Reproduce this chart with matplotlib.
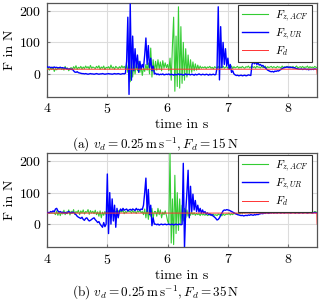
import numpy as np
import matplotlib
matplotlib.use("Agg")
import matplotlib.pyplot as plt

plt.rcParams['font.family'] = ['cmr10', 'DejaVu Serif']
plt.rcParams['mathtext.fontset'] = 'cm'
plt.rcParams['axes.formatter.use_mathtext'] = True
plt.rcParams['axes.unicode_minus'] = False

# sample times (s), 0.02 s spacing from 4.00 to 8.48
time_s = np.round(np.arange(225) * 0.02 + 4.0, 2)

# ---------- (a) F_d = 15 N ----------
fz_acf_a = [
    15, 18, 12, 20, 14, 22, 8, 17, 13, 19,
    16, 21, 14, 18, 12, 24, 15, 19, 10, 17,
    20, 14, 23, 17, 26, 15, 21, 18, 24, 16,
    22, 17, 25, 19, 23, 16, 27, 18, 22, 20,
    17, 24, 19, 26, 15, 22, 18, 25, 14, 21,
    19, 23, 16, 28, 18, 22, 15, 24, 20, 17,
    23, 18, 26, 19, 24, 16, 30, 5, 40, -25,
    45, -10, 35, 0, 30, 10, 40, 5, 25, -5,
    20, 8, 30, 12, 35, 0, 82, -10, 45, 5,
    40, 12, 45, 15, 38, 10, 42, 18, 35, 20,
    30, 10, 50, -20, 90, 180, -55, 120, -40, 213,
    -45, 150, -30, 100, -20, 80, -10, 60, 0, 45,
    5, 38, 10, 32, 12, 28, 15, 25, 18, 22,
    19, 23, 17, 22, 20, 24, 18, 21, 16, 23,
    20, 18, 24, 17, 22, 19, 25, 18, 21, 23,
    18, 22, 20, 25, 17, 23, 19, 21, 24, 18,
    22, 19, 24, 20, 18, 23, 21, 25, 19, 22,
    24, 20, 23, 18, 25, 21, 22, 19, 24, 20,
    21, 25, 18, 23, 20, 22, 24, 19, 23, 21,
    19, 24, 21, 22, 18, 25, 20, 23, 21, 24,
    22, 19, 23, 20, 24, 18, 22, 25, 19, 21,
    23, 20, 24, 19, 22, 21, 25, 18, 23, 20,
    22, 19, 24, 21, 20,
]
fz_ur_a = [
    23, 21, 22, 20, 21, 19, 22, 20, 21, 19,
    20, 21, 19, 20, 18, 19, 17, 16, 15, 16,
    14, 15, 10, 6, 5, 7, 4, 3, 2, 1,
    1, 0, 1, 0, -1, 0, 1, 0, 0, -1,
    0, 1, 0, -1, 0, 0, 1, 0, -1, 0,
    0, 1, 0, 0, -1, 0, 1, 0, 0, 1,
    0, -1, 0, 1, 0, 2, 40, 180, -65, 222,
    -20, 120, 10, 80, 20, 60, 5, 40, 15, 30,
    20, 60, 114, 30, 90, 20, 50, 10, 25, 0,
    2, -2, 0, -3, -1, -2, 0, -3, -2, -1,
    -2, 0, -3, -1, -2, -4, -1, -3, -2, 0,
    -3, -1, -2, -4, -2, 0, -3, -1, -2, -3,
    -1, -2, -4, -1, -3, -2, 0, -2, -3, -1,
    -2, -3, -1, -2, -4, -1, -3, -2, -1, -3,
    -2, 20, 213, -19, 150, 20, 100, 30, 80, 25,
    50, 15, 30, 5, 10, 0, -3, -5, -4, -6,
    -5, -4, -6, -5, -4, -6, -5, -3, -4, -5,
    30, 40, 32, 38, 30, 35, 28, 30, 25, 27,
    22, 20, 15, 12, 10, 8, 7, 8, 6, 9,
    8, 10, 9, 12, 14, 17, 19, 20, 21, 22,
    21, 22, 20, 21, 19, 20, 18, 17, 16, 15,
    15, 16, 14, 15, 16, 14, 15, 13, 15, 14,
    15, 14, 16, 15, 14,
]
fd_time_a = [4.0, 8.475, 8.48]
fd_a = [15, 15, 0]

# ---------- (b) F_d = 35 N ----------
fz_acf_b = [
    35, 35, 35, 35, 35, 35, 35, 30, 42, 28,
    40, 27, 38, 32, 44, 30, 39, 33, 45, 29,
    41, 34, 46, 31, 40, 36, 44, 30, 42, 35,
    45, 32, 40, 37, 46, 31, 43, 35, 41, 33,
    44, 30, 39, 25, 42, 20, 38, 28, 40, 30,
    36, 42, 33, 40, 35, 44, 31, 41, 37, 43,
    34, 42, 38, 45, 33, 40, 36, 44, 39, 41,
    35, 43, 37, 40, 34, 42, 38, 44, 36, 40,
    30, 48, 20, 55, 15, 45, 25, 50, 18, 40,
    40, 25, 50, 30, 45, 20, 38, 30, 42, 28,
    10, 0, 225, -60, 80, -65, 155, -30, 100, -20,
    80, 0, 60, 10, 50, 20, 45, 25, 40, 28,
    38, 30, 36, 28, 34, 30, 33, 27, 35, 29,
    31, 28, 33, 27, 30, 29, 32, 26, 31, 28,
    30, 27, 32, 29, 31, 26, 33, 28, 30, 32,
    31, 34, 29, 33, 30, 35, 32, 34, 31, 36,
    33, 37, 34, 38, 35, 39, 36, 38, 35, 40,
    37, 39, 36, 40, 38, 37, 41, 36, 39, 38,
    40, 37, 39, 36, 41, 38, 37, 40, 36, 39,
    38, 41, 37, 39, 36, 40, 38, 37, 41, 38,
    39, 36, 40, 38, 37, 41, 36, 39, 38, 40,
    37, 39, 41, 36, 38, 40, 37, 39, 36, 41,
    38, 37, 40, 39, 36,
]
fz_ur_b = [
    35, 37, 36, 40, 38, 42, 39, 48, 50, 42,
    38, 40, 36, 38, 35, 37, 34, 38, 40, 36,
    35, 38, 37, 33, 30, 25, 22, 20, 18, 22,
    15, 12, 18, 20, 14, 10, 12, 15, 18, 20,
    14, 10, 5, 8, 0, -5, -10, 5, -8, 0,
    159, -30, 100, 0, 80, 10, 60, -10, 50, 20,
    40, 48, 42, 50, 44, 46, 48, 42, 45, 47,
    44, 48, 46, 43, 50, 45, 47, 44, 48, 46,
    60, 100, 146, 40, 110, 30, 60, -5, 20, 0,
    0, -2, 0, -3, -1, 0, -2, -1, 0, -2,
    -1, 0, -2, -1, 0, -3, -1, 0, -2, -1,
    0, -2, -1, 193, -75, 40, 100, 171, 20, 120,
    40, 95, 45, 75, 40, 60, 38, 50, 35, 45,
    35, 40, 32, 36, 30, 33, 28, 30, 25, 22,
    18, 13, 15, 20, 28, 35, 42, 45, 44, 46,
    45, 44, 42, 40, 38, 36, 34, 32, 30, 29,
    28, 27, 28, 26, 27, 28, 27, 29, 28, 30,
    29, 28, 30, 29, 31, 30, 32, 33, 34, 33,
    35, 34, 36, 35, 34, 36, 35, 37, 35, 36,
    36, 35, 37, 36, 35, 37, 36, 35, 37, 36,
    36, 37, 35, 36, 37, 36, 35, 37, 36, 35,
    36, 37, 35, 36, 37, 36, 35, 36, 37, 36,
    35, 36, 37, 36, 35,
]
fd_time_b = [4.0, 8.475, 8.48]
fd_b = [35, 35, 0]

x_ticks = [4, 5, 6, 7, 8]
y_ticks = [0, 100, 200]
legend_labels = [r'$F_{z,ACF}$', r'$F_{z,UR}$', r'$F_d$']
captions = [r'(a) $v_d = 0.25\,\mathrm{m\,s^{-1}}, F_d = 15\,\mathrm{N}$',
            r'(b) $v_d = 0.25\,\mathrm{m\,s^{-1}}, F_d = 35\,\mathrm{N}$']

GREEN = '#33cc33'
BLUE = '#0000ff'
RED = '#ff3333'

fig = plt.figure(figsize=(3.2, 3.01), dpi=100)
ax_a = fig.add_axes([0.147, 0.678, 0.844, 0.312])
ax_b = fig.add_axes([0.147, 0.179, 0.844, 0.312])

panels = [
    (ax_a, fz_acf_a, fz_ur_a, fd_time_a, fd_a, captions[0], 0.518),
    (ax_b, fz_acf_b, fz_ur_b, fd_time_b, fd_b, captions[1], 0.027),
]

for ax, acf, ur, fdt, fd, cap, capy in panels:
    l1, = ax.plot(time_s, acf, color=GREEN, lw=0.8, zorder=3)
    l2, = ax.plot(time_s, ur, color=BLUE, lw=1.0, zorder=4)
    l3, = ax.plot(fdt, fd, color=RED, lw=0.7, zorder=5)
    ax.set_xlim(4.0, 8.48)
    ax.set_ylim(-73, 225)
    ax.set_xticks(x_ticks)
    ax.set_yticks(y_ticks)
    ax.grid(True, color='#dcdcdc', lw=0.8)
    ax.set_axisbelow(True)
    for s in ax.spines.values():
        s.set_color('#555555')
        s.set_linewidth(0.9)
    ax.tick_params(direction='in', length=2.5, color='#777777', labelsize=10, pad=4)
    ax.set_xlabel('time in s', fontsize=10, labelpad=2)
    ax.set_ylabel('F in N', fontsize=10, labelpad=2)
    leg = ax.legend([l1, l2, l3], legend_labels, loc='upper right',
                    bbox_to_anchor=(0.98, 0.98), fontsize=8, fancybox=False,
                    framealpha=1, edgecolor='#333333', handlelength=2.4,
                    borderpad=0.3, labelspacing=0.25, handletextpad=0.6,
                    borderaxespad=0)
    leg.get_frame().set_linewidth(0.8)
    fig.text(0.485, capy, cap, ha='center', va='center', fontsize=9.5)

fig.savefig('out.png', dpi=100)
